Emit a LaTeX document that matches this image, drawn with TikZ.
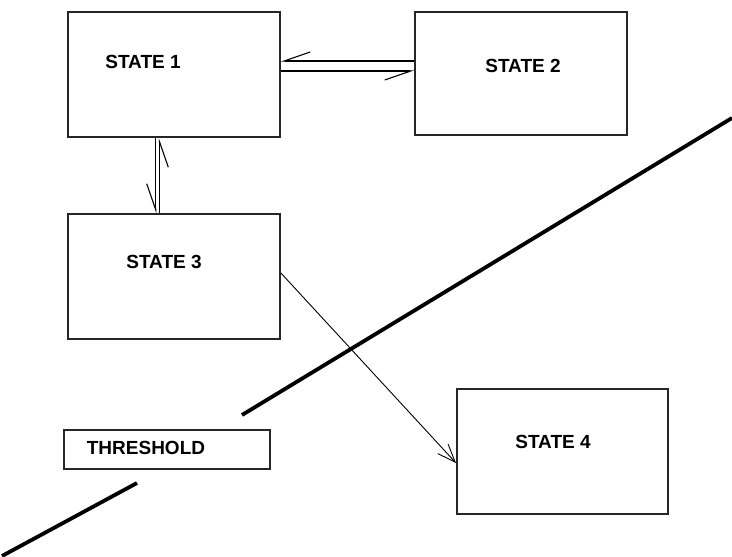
\documentclass[tikz,border=0pt]{standalone}
\usepackage{fontspec}
\setmainfont{Liberation Sans}
\usetikzlibrary{arrows.meta}
\begin{document}
\begin{tikzpicture}[x=1pt,y=-1pt,
  box/.style={draw=black!85, line width=1.9pt, rectangle, inner sep=0pt, anchor=north west},
  lbl/.style={font=\fontsize{19}{21}\selectfont\bfseries, anchor=base, inner sep=0pt},
  dbl/.style={line width=1.1pt, -{Straight Barb[harpoon,swap,length=26pt,width=18pt,line width=1.1pt]}},
  thin arrow/.style={line width=0.9pt, -{Straight Barb[length=18pt,width=14pt,line width=0.9pt]}},
  thick line/.style={line width=3.8pt}]
\useasboundingbox (0,0) rectangle (732,557);
\node[box, minimum width=212pt, minimum height=125pt] (s1) at (67,11) {};
\node[box, minimum width=212pt, minimum height=123pt] (s2) at (414,11) {};
\node[box, minimum width=212pt, minimum height=125pt] (s3) at (67,213) {};
\node[box, minimum width=211pt, minimum height=125pt] (s4) at (456,388) {};
\node[box, minimum width=206pt, minimum height=39pt] (th) at (63,429) {};
\node[lbl] (t1) at (143,68) {STATE 1};
\node[lbl] (t2) at (523,72) {STATE 2};
\node[lbl] (t3) at (164,268) {STATE 3};
\node[lbl] (t4) at (553,448) {STATE 4};
\node[lbl] (tt) at (146,454) {THRESHOLD};
% double connectors
\draw[dbl] (s2.west |- 0,61) -- (s1.east |- 0,61);
\draw[dbl] (s1.east |- 0,71) -- (s2.west |- 0,71);
\draw[dbl] (s1.south -| 155.7,0) -- (s3.north -| 155.7,0);
\draw[dbl] (s3.north -| 159.3,0) -- (s1.south -| 159.3,0);
% state 3 to state 4
\draw[thin arrow] (s3.east |- 0,273) -- (s4.west |- 0,463);
% threshold line
\coordinate (a1) at (2,556);
\coordinate (a2) at (137,483);
\coordinate (b1) at (242,415);
\coordinate (b2) at (732,118);
\draw[thick line] (a1) -- (a2);
\draw[thick line] (b1) -- (b2);
\end{tikzpicture}
\end{document}
